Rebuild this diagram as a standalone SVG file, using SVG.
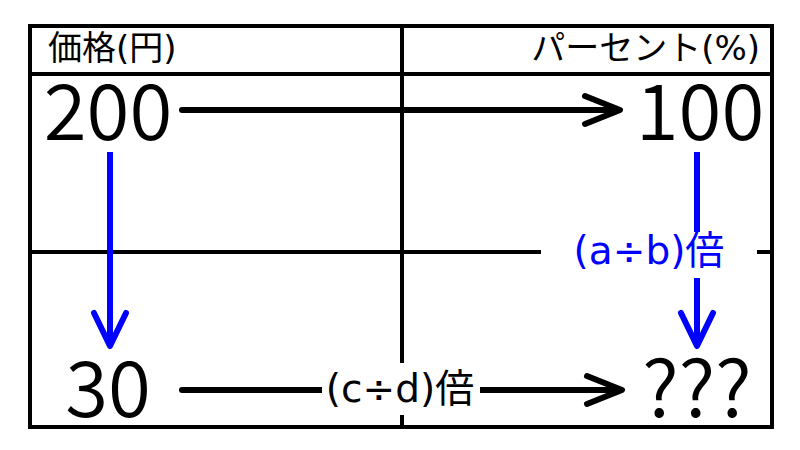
<svg xmlns="http://www.w3.org/2000/svg" width="800" height="450" viewBox="0 0 800 450">
<style>
.grid{stroke:#000;stroke-width:4;fill:none}
.t{font-family:"Noto Sans CJK JP","Noto Sans",sans-serif;fill:#000}
.m{font-family:"DejaVu Sans","Noto Sans CJK JP",sans-serif}
.big{font-size:78px;text-anchor:middle;font-weight:350}
.hdr{font-size:34px}
.lbl{font-size:39px;text-anchor:middle}
.blk{stroke:#000;stroke-width:6;fill:none;stroke-linecap:round;stroke-linejoin:round}
.blu{stroke:#0000ff;stroke-width:6;fill:none;stroke-linejoin:round}
</style>
<rect width="800" height="450" fill="#fff"/>
<g id="table">
<rect class="grid" x="30" y="26" width="742" height="401"/>
<line class="grid" x1="30" y1="74" x2="772" y2="74"/>
<line class="grid" x1="402" y1="26" x2="402" y2="427"/>
<line class="grid" x1="30" y1="252" x2="772" y2="252"/>
</g>
<g id="headers">
<text class="t m hdr" x="48" y="60">価格(円)</text>
<text class="t m hdr" x="760" y="60" text-anchor="end">パーセント(%)</text>
</g>
<g id="connectors">
<line class="blk" x1="182" y1="110" x2="617" y2="110"/>
<polyline class="blk" points="585,96 620,110 585,124"/>
<line class="blk" x1="182" y1="390" x2="617" y2="390"/>
<polyline class="blk" points="587,376 622,390 587,404"/>
<line class="blu" x1="110" y1="152" x2="110" y2="344"/>
<polyline class="blu" points="94,313 110,346 126,313" style="stroke-linecap:round"/>
<line class="blu" x1="697" y1="152" x2="697" y2="344"/>
<polyline class="blu" points="681,313 697,346 713,313" style="stroke-linecap:round"/>
</g>
<g id="n200"><text class="t big" x="108" y="140">200</text></g>
<g id="n100"><text class="t big" x="700" y="140">100</text></g>
<g id="n30"><text class="t big" x="108" y="417">30</text></g>
<g id="nq"><text class="t big" x="697" y="417">???</text></g>
<g id="label-ab">
<rect x="541" y="232" width="216" height="46" fill="#fff"/>
<text class="t m lbl" x="649" y="264" style="fill:#0000ff">(a÷b)倍</text>
</g>
<g id="label-cd">
<rect x="322" y="363" width="158" height="52" fill="#fff"/>
<text class="t m lbl" x="400" y="402">(c÷d)倍</text>
</g>
</svg>
